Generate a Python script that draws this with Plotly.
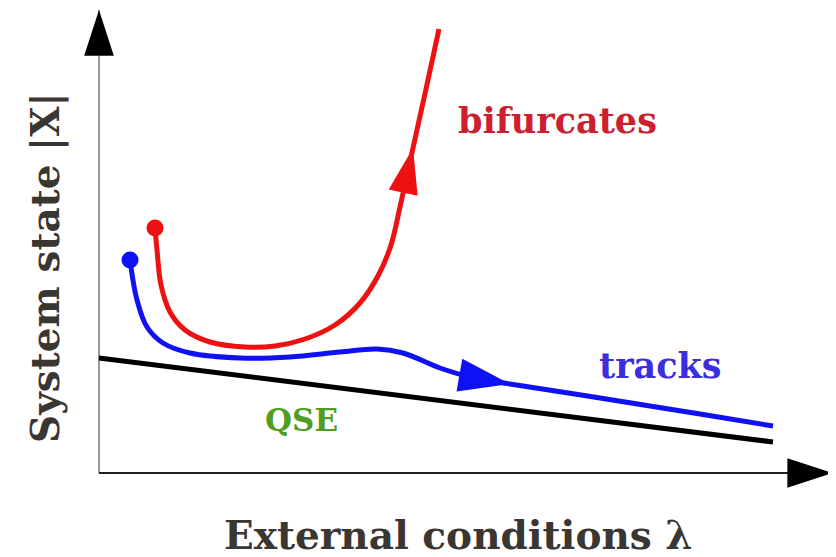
import plotly.graph_objects as go

# schematic values, lambda / |X| in screen-like units measured from the axes corner
qse_lam = [0, 674]
qse_x = [115, 31]

tracks_lam = [31, 38, 48, 64, 91, 141, 191, 241, 278, 304, 341, 371, 411, 501, 601, 674]
tracks_x = [213, 173, 146, 130, 120, 115, 116, 121, 124, 120, 105, 96, 89, 75, 59, 47]
tracks_arrow = 12

bif_lam = [56, 58, 62, 71, 86, 111, 146, 176, 206, 236, 261, 280, 292, 301, 314, 327, 340]
bif_x = [245, 223, 188, 161, 143, 131, 126, 127, 134, 148, 170, 199, 228, 266, 325, 384, 444]
bif_arrow = 14

lam_axis_end = 734
x_axis_end = 463

SERIF = "DejaVu Serif"


def curve(lam, vals, color):
    return go.Scatter(
        x=lam, y=vals, mode="lines",
        line=dict(color=color, width=5, shape="spline", smoothing=1.0),
        hoverinfo="skip", showlegend=False,
    )


def marks(lam, vals, idx, color, arrow_size, dot_size=17):
    # start dot plus an arrowhead pointing along the curve at idx
    return [
        go.Scatter(x=[lam[0]], y=[vals[0]], mode="markers",
                   marker=dict(symbol="circle", size=dot_size, color=color, opacity=1,
                               line=dict(width=0)),
                   hoverinfo="skip", showlegend=False),
        go.Scatter(x=lam[idx - 1:idx + 1], y=vals[idx - 1:idx + 1], mode="markers",
                   marker=dict(symbol=["circle", "arrow"], size=[0, arrow_size],
                               color=color, opacity=1, angleref="previous",
                               line=dict(width=0)),
                   hoverinfo="skip", showlegend=False),
    ]


def axis_arrow(lam, vals, color):
    return [
        go.Scatter(x=lam, y=vals, mode="lines", line=dict(color=color, width=2),
                   hoverinfo="skip", showlegend=False),
        go.Scatter(x=lam, y=vals, mode="markers",
                   marker=dict(symbol=["circle", "arrow"], size=[0, 48], color="black",
                               opacity=1, angleref="previous", line=dict(width=0)),
                   hoverinfo="skip", showlegend=False),
    ]


fig = go.Figure()
fig.add_traces(axis_arrow([0, 0], [0, x_axis_end], "#9a9a9a"))
fig.add_traces(axis_arrow([0, lam_axis_end], [0, 0], "#222222"))
fig.add_trace(go.Scatter(x=qse_lam, y=qse_x, mode="lines",
                         line=dict(color="black", width=5),
                         hoverinfo="skip", showlegend=False))
fig.add_trace(curve(tracks_lam, tracks_x, "#1010f5"))
fig.add_trace(curve(bif_lam, bif_x, "#ee1111"))
fig.add_traces(marks(tracks_lam, tracks_x, tracks_arrow, "#1010f5", 54))
fig.add_traces(marks(bif_lam, bif_x, bif_arrow, "#ee1111", 48))

labels = [
    ("System state |X|", -54, 205, 39, "#3a3632", -90),
    ("External conditions λ", 359, -62, 39, "#3a3632", 0),
    ("bifurcates", 458, 353, 35, "#cc2030", 0),
    ("tracks", 561, 108, 35, "#3a2ee0", 0),
    ("QSE", 202, 53, 31, "#4f9e22", 0),
]
for text, x, y, size, color, ang in labels:
    fig.add_annotation(x=x, y=y, text=f"<b>{text}</b>", showarrow=False,
                       textangle=ang, xanchor="center", yanchor="middle",
                       font=dict(family=SERIF, size=size, color=color))

# the page body adds an 8px offset, so the ranges are shifted to compensate
fig.update_layout(
    width=836, height=557,
    margin=dict(l=0, r=0, t=0, b=0, autoexpand=False),
    paper_bgcolor="white", plot_bgcolor="white",
    xaxis=dict(range=[-91, 745], visible=False, fixedrange=True),
    yaxis=dict(range=[-92, 465], visible=False, fixedrange=True),
)

fig.write_html("out.html")
